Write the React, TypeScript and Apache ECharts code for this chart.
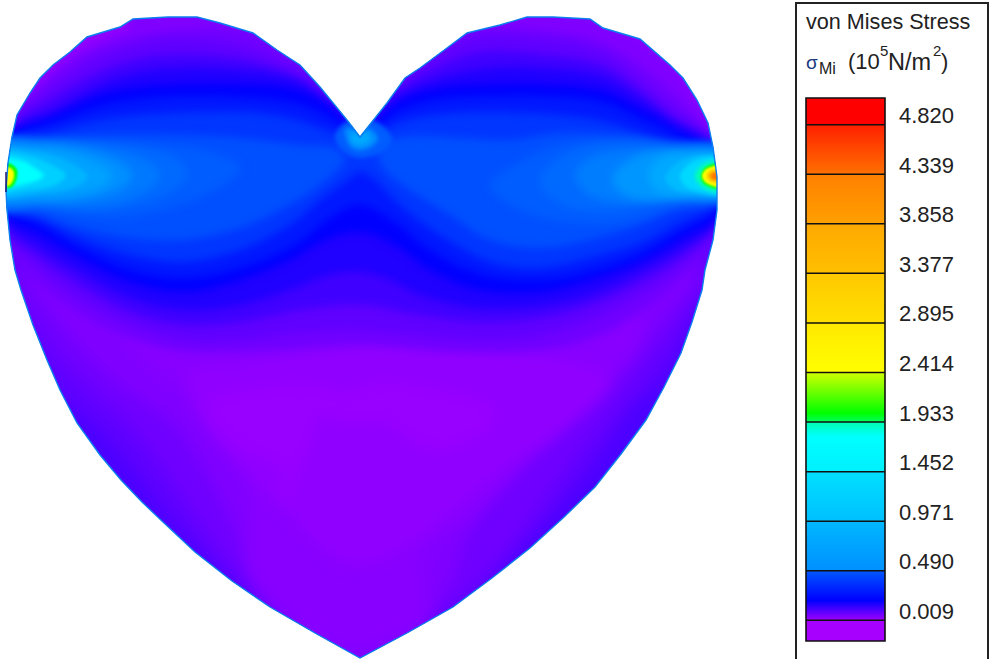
import React, { useEffect, useRef } from "react";
import * as echarts from "echarts";

type Pt = [number, number];
type Layer = [number, Pt[]];

// Heart outline, in plot units
const heartOutline: Pt[] = [[360,137],[347,120],[320,87],[300,65],[277,50],[253,33],[220,23],[197,17],[168,17],[133,19],[120,27],[87,37],[70,52],[53,65],[40,78],[30,93],[17,115],[12,137],[8,163],[6,190],[7,210],[10,240],[15,270],[21,290],[33,325],[47,360],[60,390],[77,423],[100,455],[121,480],[142,502],[163,522],[195,552],[232,581],[270,607],[315,633],[360,658],[407,633],[453,607],[492,578],[530,548],[563,518],[595,487],[621,454],[646,420],[664,387],[681,353],[692,322],[702,290],[705,270],[713,240],[717,210],[717,177],[713,147],[708,123],[697,100],[683,78],[670,65],[640,39],[603,28],[590,19],[553,17],[527,17],[500,25],[467,33],[447,48],[420,68],[405,78],[387,103]];

// Stress level -> contour polygon
const baseLayers: Layer[] = [
  [0.105, [[-20,-20],[760,-20],[760,680],[-20,680]]],
];
const lowerLayers: Layer[] = [
  [0.08, [[10,260],[30,340],[60,395],[100,430],[130,465],[160,505],[195,545],[240,585],[300,635],[360,680],[420,635],[480,590],[525,545],[565,500],[600,455],[630,410],[665,375],[695,320],[720,250],[360,210]]],
  [0.06, [[15,265],[45,340],[85,385],[130,425],[165,470],[195,515],[225,560],[270,610],[360,670],[450,610],[495,565],[530,520],[565,470],[600,425],[640,375],[680,320],[710,260],[360,230]]],
  [0.04, [[35,270],[70,335],[120,385],[170,420],[205,470],[235,530],[265,590],[360,665],[440,600],[470,530],[505,475],[545,430],[600,385],[650,335],[690,265],[360,250]]],
  [0.03, [[120,330],[170,380],[220,430],[250,500],[250,570],[300,630],[360,650],[425,620],[425,555],[480,510],[540,450],[600,390],[640,340],[630,300],[360,300],[120,300]]],
  [0.02, [[190,375],[240,365],[300,355],[370,345],[470,345],[560,360],[610,380],[560,430],[500,470],[440,520],[380,560],[340,560],[285,510],[245,470],[205,425]]],
  [0.01, [[209,400],[246,390],[316,385],[349,393],[372,382],[442,390],[493,407],[488,430],[442,450],[414,443],[386,423],[340,422],[321,415],[312,440],[298,470],[284,507],[279,467],[242,450],[214,423]]],
];
const capLayers: Layer[] = [
  [0.04, [[-10,135],[-10,-10],[730,-10],[730,135],[360,130]]],
  [0.02, [[15,112],[35,88],[70,58],[105,40],[130,27],[110,10],[40,40],[0,90]]],
  [0.02, [[620,25],[650,45],[680,72],[700,105],[730,100],[700,40],[650,15]]],
];
const bandLayers: Layer[] = [
  [0.06, [[12,118],[40,88],[85,55],[130,38],[180,30],[240,30],[300,40],[360,60],[420,40],[480,28],[540,30],[600,42],[650,72],[680,100],[705,130],[730,180],[715,240],[690,270],[650,305],[600,335],[540,350],[460,352],[360,345],[280,350],[200,352],[150,345],[90,320],[40,285],[8,250],[-10,180]]],
  [0.08, [[12,122],[45,92],[90,62],[135,44],[180,38],[235,44],[285,62],[330,80],[360,90],[400,75],[430,55],[480,36],[540,38],[600,50],[640,78],[675,108],[708,135],[730,180],[716,232],[680,268],[640,295],[590,320],[540,335],[480,340],[420,335],[360,330],[300,332],[240,340],[185,340],[130,325],[80,300],[40,270],[8,240],[-10,180]]],
  [0.12, [[10,128],[50,100],[100,72],[140,58],[180,54],[235,58],[275,68],[310,85],[335,105],[360,100],[395,90],[430,70],[480,52],[540,54],[600,64],[640,90],[670,115],[710,140],[730,180],[716,225],[680,258],[640,282],[590,305],[540,318],[480,322],[420,315],[360,305],[300,310],[240,322],[185,325],[130,312],[80,285],[40,258],[8,232],[-10,180]]],
  [0.16, [[10,132],[55,110],[100,85],[140,72],[180,68],[240,70],[290,78],[320,95],[345,118],[360,130],[375,120],[400,95],[440,78],[490,68],[540,68],[600,76],[640,98],[670,120],[712,145],[730,180],[716,222],[680,250],[640,272],[590,295],[540,306],[480,308],[420,295],[390,280],[360,272],[330,275],[290,290],[240,305],[185,310],[130,298],[80,272],[40,248],[8,225],[-10,180]]],
  [0.2, [[10,135],[55,115],[100,95],[140,87],[180,84],[240,84],[290,88],[320,100],[340,115],[360,135],[378,118],[400,100],[440,88],[490,84],[540,84],[600,90],[640,108],[670,125],[712,150],[730,180],[716,218],[680,240],[640,262],[590,280],[540,292],[480,290],[430,270],[395,245],[360,232],[325,240],[290,260],[240,280],[185,292],[130,282],[80,258],[40,235],[8,218],[-10,180]]],
  [0.25, [[8,140],[60,120],[100,106],[140,99],[180,96],[240,97],[290,102],[320,112],[345,127],[360,135],[376,127],[400,110],[440,99],[490,96],[540,96],[600,101],[640,118],[672,132],[712,155],[730,180],[716,210],[680,232],[640,255],[590,272],[540,280],[480,274],[430,250],[395,222],[360,205],[330,218],[295,245],[240,268],[185,278],[130,270],[80,248],[40,225],[8,210],[-10,180]]],
  [0.32, [[8,142],[50,132],[100,120],[150,114],[200,112],[250,112],[290,118],[320,128],[345,137],[360,142],[378,134],[400,122],[440,114],[490,112],[550,114],[600,120],[640,132],[675,144],[712,160],[730,180],[716,205],[680,222],[640,243],[590,258],[540,268],[490,262],[440,235],[400,205],[375,180],[360,172],[345,182],[320,200],[290,225],[240,250],[185,262],[130,255],[80,238],[40,218],[8,205],[-10,180]]],
];
const leftLobeLayers: Layer[] = [
  [0.4, [[-5,143],[50,138],[100,135],[150,134],[210,136],[260,140],[300,145],[335,148],[345,160],[320,185],[280,210],[240,228],[185,240],[130,238],[80,228],[40,215],[-5,208]]],
  [0.45, [[-5,145],[50,141],[100,141],[160,145],[210,152],[240,168],[215,190],[170,208],[120,218],[70,214],[30,206],[-5,205]]],
  [0.5, [[-5,146],[40,142],[90,143],[140,148],[175,158],[187,175],[170,192],[130,206],[90,210],[45,206],[-5,203]]],
  [0.58, [[-5,147],[40,143],[80,145],[125,153],[150,163],[160,176],[147,190],[115,203],[78,206],[40,204],[-5,201]]],
  [0.7, [[-5,148],[35,145],[75,148],[110,157],[130,170],[132,178],[118,190],[85,199],[45,201],[-5,198]]],
  [0.85, [[-5,150],[30,148],[65,152],[95,162],[112,175],[100,188],[65,196],[30,197],[-5,196]]],
  [1.0, [[-5,152],[30,151],[60,158],[82,170],[88,177],[75,187],[45,193],[-5,194]]],
  [1.2, [[-5,155],[25,155],[50,164],[66,175],[55,185],[28,190],[-5,191]]],
  [1.45, [[-5,160],[20,160],[38,170],[44,176],[30,183],[-5,187]]],
  [1.93, [[6,163],[16,168],[17,177],[13,186],[8,188],[2,176]]],
  [2.41, [[6,167],[13,170],[14,177],[11,184],[7,186],[2,175]]],
];
const rightLobeLayers: Layer[] = [
  [0.4, [[730,148],[670,143],[620,135],[560,133],[510,140],[460,138],[420,136],[390,140],[378,152],[385,170],[410,190],[450,215],[490,240],[540,248],[590,240],[640,225],[680,208],[730,198]]],
  [0.45, [[730,150],[670,144],[620,140],[560,145],[520,162],[490,185],[520,210],[570,222],[620,222],[670,208],[730,195]]],
  [0.5, [[730,152],[670,146],[620,143],[575,150],[545,170],[540,185],[565,205],[610,210],[660,203],[730,192]]],
  [0.6, [[730,155],[670,150],[630,150],[590,158],[575,175],[590,195],[625,203],[670,198],[730,190]]],
  [0.75, [[730,156],[680,151],[645,153],[620,167],[612,180],[625,195],[655,200],[690,196],[730,192]]],
  [0.9, [[730,158],[685,153],[660,158],[648,175],[656,190],[680,196],[730,194]]],
  [1.05, [[730,160],[695,156],[676,164],[665,178],[676,190],[695,193],[730,193]]],
  [1.25, [[730,160],[703,158],[688,165],[680,177],[690,189],[730,192]]],
  [1.6, [[730,163],[706,163],[695,176],[706,189],[730,191]]],
  [1.93, [[730,164],[708,166],[701,176],[706,185],[730,189]]],
  [2.41, [[730,165],[708,168],[702,176],[708,184],[730,188]]],
  [3.0, [[730,168],[710,170],[706,176],[710,182],[730,185]]],
  [3.8, [[730,170],[712,172],[709,176],[712,180],[730,182]]],
  [4.3, [[730,172],[713,174],[712,176],[714,179],[730,180]]],
];
const cuspLayers: Layer[] = [
  [0.45, [[335,135],[350,120],[360,130],[372,120],[392,137],[385,150],[360,158],[342,150]]],
  [0.7, [[345,130],[352,128],[360,133],[368,128],[378,138],[372,146],[360,150],[350,146]]],
  [0.9, [[353,132],[360,136],[367,132],[370,140],[360,145],[351,140]]],
];

const stressStops: [number, string][] = [
  [0, "#a000ff"], [0.2, "#0000ff"], [0.3, "#0030ff"], [0.4, "#0050ff"], [0.49, "#0068ff"],
  [0.7, "#0090ff"], [0.97, "#00b0ff"], [1.2, "#00d0ff"], [1.45, "#00ffff"], [1.93, "#00ff00"],
  [2.41, "#ffff00"], [3.377, "#ffc000"], [4.339, "#ff7000"], [4.82, "#ff0000"],
];

// Colour bar
const tickValues = [0.009, 0.49, 0.971, 1.452, 1.933, 2.414, 2.895, 3.377, 3.858, 4.339, 4.82];
const barMin = -0.192;
const barMax = 5.079;
const barColors: string[][] = [
  ["#a800ff", "#a800ff"],
  ["#0058ff", "#0000ff", "#a000ff"],
  ["#00b8ff", "#0090ff"],
  ["#00e0ff", "#00c0ff"],
  ["#00ffb0", "#00ffff", "#00f0ff"],
  ["#d0ff00", "#00ff00", "#00ff60"],
  ["#ffe800", "#ffff00"],
  ["#ffc800", "#ffe000"],
  ["#ffa800", "#ffc000"],
  ["#ff8000", "#ffa000"],
  ["#ff2000", "#ff7000"],
  ["#ff0000", "#ff0000"],
];
const barMidOffsets: Record<number, number> = { 1: 0.6, 4: 0.3, 5: 0.82 };

function lerpColor(a: string, b: string, t: number) {
  const p = (s: string, i: number) => parseInt(s.slice(i, i + 2), 16);
  const c = [1, 3, 5].map((i) => Math.round(p(a, i) + (p(b, i) - p(a, i)) * t));
  return `rgb(${c[0]},${c[1]},${c[2]})`;
}
function stressColor(v: number) {
  for (let i = 1; i < stressStops.length; i++) {
    if (v <= stressStops[i][0]) {
      const [v0, c0] = stressStops[i - 1];
      const [v1, c1] = stressStops[i];
      return lerpColor(c0, c1, (v - v0) / (v1 - v0));
    }
  }
  return stressStops[stressStops.length - 1][1];
}

const layers: Layer[] = [
  ...baseLayers, ...lowerLayers, ...capLayers, ...bandLayers,
  ...leftLobeLayers, ...rightLobeLayers, ...cuspLayers,
];
const cuspStart = layers.length - cuspLayers.length;
const lowerEnd = baseLayers.length + lowerLayers.length;
const tipEdge: Pt[] = [[6, 172], [6, 192]];

function softness(i: number, value: number) {
  if (i === 0) return 0;
  if (i < lowerEnd) return 8;
  if (i >= cuspStart) return 2.2;
  if (value >= 1.9) return 0.8;
  if (value >= 1) return 2;
  return 4;
}

export default function App() {
  const ref = useRef<HTMLDivElement>(null);
  useEffect(() => {
    document.body.style.margin = "0";
    const chart = echarts.init(ref.current!, undefined, { renderer: "svg" });
    const font = "'Liberation Sans', Arial, sans-serif";
    const txt = (text: string, x: number, y: number, size: number, fill = "#222") => ({
      type: "text", x, y, z: 50,
      style: { text, fontSize: size, fontFamily: font, fill },
    });
    const bounds = [barMin, ...tickValues, barMax];
    const segments = bounds.slice(0, -1).map((lo, i) => [lo, bounds[i + 1], i]);
    chart.setOption({
      animation: false,
      backgroundColor: "#fff",
      grid: [
        { left: 0, top: 0, width: 991, height: 659 },
        { left: 806, top: 98, width: 79, height: 543 },
      ],
      xAxis: [
        { type: "value", gridIndex: 0, min: 0, max: 991, show: false },
        { type: "value", gridIndex: 1, min: 0, max: 1, show: false },
      ],
      yAxis: [
        { type: "value", gridIndex: 0, min: 0, max: 659, inverse: true, show: false },
        {
          type: "value", gridIndex: 1, min: barMin, max: barMax, position: "right",
          splitLine: { show: false },
          axisLine: { show: false },
          axisTick: { show: true, length: 9, customValues: tickValues, lineStyle: { color: "#111", width: 1.5 } },
          axisLabel: {
            show: true, customValues: tickValues, margin: 14, color: "#222", fontSize: 22, fontFamily: font,
            verticalAlign: "bottom", lineHeight: 18, formatter: (v: number) => v.toFixed(3),
          },
        },
      ],
      series: [
        {
          type: "custom", xAxisIndex: 0, yAxisIndex: 0, silent: true, clip: false,
          coordinateSystem: "cartesian2d",
          data: layers.map((l, i) => [i, l[0]]),
          encode: { x: 0, y: 1 },
          renderItem: (_p: any, api: any) => {
            const i = api.value(0);
            const [value, pts] = layers[i];
            const clip = heartOutline.map((p) => api.coord(p));
            return {
              type: "group",
              clipPath: { type: "polygon", shape: { points: clip } },
              children: [{
                type: "polygon",
                shape: { points: pts.map((p) => api.coord(p)), smooth: i === 0 ? 0 : 0.35 },
                style: { fill: stressColor(value), stroke: "none" },
              }],
            };
          },
        },
        {
          type: "custom", xAxisIndex: 0, yAxisIndex: 0, silent: true, clip: false, z: 3,
          data: [[0, 0]],
          renderItem: (_p: any, api: any) => ({
            type: "group",
            children: [
              {
                type: "polygon",
                shape: { points: heartOutline.map((p) => api.coord(p)) },
                style: { fill: "none", stroke: "#0a80ee", lineWidth: 1.4 },
              },
              {
                type: "polyline",
                shape: { points: tipEdge.map((p) => api.coord(p)) },
                style: { fill: "none", stroke: "#1a1a70", lineWidth: 1.5 },
              },
            ],
          }),
        },
        {
          type: "custom", xAxisIndex: 1, yAxisIndex: 1, silent: true, clip: false,
          data: segments,
          encode: { y: [0, 1] },
          renderItem: (_p: any, api: any) => {
            const lo = api.value(0), hi = api.value(1), idx = api.value(2);
            const a = api.coord([0, hi]);
            const b = api.coord([1, lo]);
            const cols = barColors[idx];
            const mid = barMidOffsets[idx];
            return {
              type: "group",
              children: [
                {
                  type: "rect",
                  shape: { x: a[0], y: a[1], width: b[0] - a[0], height: b[1] - a[1] },
                  style: {
                    fill: new echarts.graphic.LinearGradient(0, 0, 0, 1,
                      cols.length === 3
                        ? [{ offset: 0, color: cols[0] }, { offset: mid, color: cols[1] }, { offset: 1, color: cols[2] }]
                        : [{ offset: 0, color: cols[0] }, { offset: 1, color: cols[1] }]),
                  },
                },
                {
                  type: "line",
                  shape: { x1: a[0], y1: b[1], x2: b[0], y2: b[1] },
                  style: { stroke: idx === 0 ? "transparent" : "#111", lineWidth: 1.5 },
                },
              ],
            };
          },
        },
      ],
      graphic: [
        { type: "rect", z: 0, shape: { x: 796, y: 3, width: 192, height: 670 }, style: { fill: "#fff", stroke: "#222", lineWidth: 2 } },
        { type: "rect", z: 50, shape: { x: 806, y: 98, width: 79, height: 543 }, style: { fill: "none", stroke: "#111", lineWidth: 1.6 } },
        txt("von Mises Stress", 806, 10, 21.6),
        txt("σ", 806, 53, 19, "#1a3a80"),
        txt("Mi", 819, 60, 16),
        txt("(10", 848, 50, 22),
        txt("5", 880, 43, 15),
        txt("N/m", 888, 50, 23.5),
        txt("2", 933, 43, 15),
        txt(")", 941, 50, 22),
      ],
    });
    // Soften the contour fills so neighbouring levels blend as they do in the plot.
    const paths = ref.current!.querySelectorAll("g[clip-path] > path");
    paths.forEach((el, i) => {
      const blur = softness(i, layers[i] ? layers[i][0] : 0);
      if (blur > 0) (el as SVGElement).style.filter = `blur(${blur}px)`;
    });
    return () => chart.dispose();
  }, []);
  return <div ref={ref} style={{ position: "fixed", left: 0, top: 0, width: 991, height: 659 }} />;
}
